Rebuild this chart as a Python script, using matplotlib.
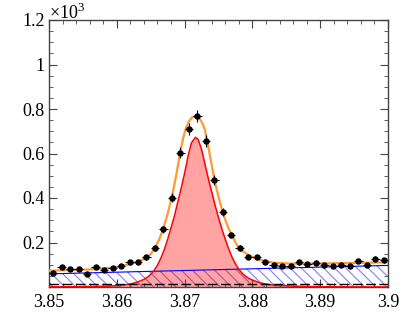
import numpy as np
import matplotlib
matplotlib.use("Agg")
import matplotlib.pyplot as plt
from matplotlib.ticker import MultipleLocator, FuncFormatter

plt.rcParams["font.family"] = ["Liberation Serif", "DejaVu Serif"]
plt.rcParams["mathtext.fontset"] = "custom"
plt.rcParams["mathtext.rm"] = "Liberation Serif"
plt.rcParams["hatch.color"] = "#8080ff"
plt.rcParams["hatch.linewidth"] = 0.8

# ---------------------------------------------------------------------
# Data (40 bins, 3.85 - 3.90)
# ---------------------------------------------------------------------
bin_width = 0.00125
bin_centers = 3.85 + bin_width * (np.arange(40) + 0.5)
counts = [64, 91, 81, 79, 58, 91, 75, 85, 94, 111,
          112, 133, 177, 259, 401, 604, 711, 768, 657, 481,
          337, 234, 177, 136, 133, 112, 99, 94, 93, 111,
          103, 109, 97, 94, 100, 93, 117, 99, 127, 120]

# total fit (orange)
total_x = [3.8500, 3.8520, 3.8540, 3.8560, 3.8575, 3.8590, 3.8600, 3.8610,
           3.8620, 3.8630, 3.8637, 3.8644, 3.8650, 3.8656, 3.8662, 3.8668,
           3.8674, 3.8681, 3.8687, 3.8693, 3.8698, 3.8702, 3.8706, 3.8710,
           3.8714, 3.8718, 3.8722, 3.8726, 3.8730, 3.8734, 3.8739, 3.8744,
           3.8750, 3.8755, 3.8760, 3.8765, 3.8770, 3.8775, 3.8780, 3.8787,
           3.8794, 3.8806, 3.8818, 3.8831, 3.8856, 3.8900, 3.8950, 3.9000]
total_y = [73, 75, 77, 79, 82, 86, 90, 96,
           104, 112, 121, 131, 148, 174, 210, 257,
           318, 401, 492, 596, 670, 715, 742, 759,
           766, 766, 757, 738, 705, 645, 565, 481,
           405, 350, 302, 262, 234, 200, 176, 158,
           144, 126, 117, 109, 105, 106, 108, 111]

# signal component (red)
signal_x = [3.8500, 3.8520, 3.8540, 3.8560, 3.8580, 3.8590, 3.8600, 3.8610,
            3.8620, 3.8630, 3.8635, 3.8640, 3.8645, 3.8650, 3.8655, 3.8660,
            3.8665, 3.8670, 3.8675, 3.8680, 3.8685, 3.8690, 3.8695, 3.8700,
            3.8705, 3.8710, 3.8716, 3.8720, 3.8725, 3.8730, 3.8735, 3.8740,
            3.8745, 3.8750, 3.8755, 3.8760, 3.8765, 3.8770, 3.8775, 3.8780,
            3.8785, 3.8790, 3.8795, 3.8800, 3.8810, 3.8820, 3.8830, 3.8840,
            3.8860, 3.8880, 3.8900, 3.8930, 3.8960, 3.9000]
signal_y = [0.5, 0.8, 1.1, 1.9, 3.4, 4.7, 6.1, 9.2,
            13.5, 21.5, 27.6, 34.3, 43.7, 56.5, 74, 98,
            129, 168, 214, 266, 319, 382, 444, 511,
            586, 647, 673, 663, 618, 553, 487, 427,
            367, 312, 261, 214, 171, 134, 104, 79,
            62, 48, 38, 31, 20, 13, 9, 6.3,
            3.6, 2.1, 1.3, 0.7, 0.4, 0.1]

# linear background (blue) and flat component (dashed)
bkg_x = [3.85, 3.90]
bkg_y = [59, 97]
flat_y = [14, 14]

# ---------------------------------------------------------------------
# Plot
# ---------------------------------------------------------------------
fig = plt.figure(figsize=(4.09, 3.27), dpi=100)
ax = fig.add_axes([49 / 409, 1 - 287 / 327, 339 / 409, 267 / 327])

ax.fill_between(bkg_x, 0, bkg_y, facecolor="none", edgecolor="#8080ff",
                linewidth=0, hatch="\\\\\\", zorder=1)
ax.fill_between(signal_x, 0, signal_y, color="red", alpha=0.36,
                linewidth=0, zorder=2)
ax.plot(bkg_x, bkg_y, color="#0000ff", linewidth=0.8, zorder=3)
ax.plot(signal_x, signal_y, color="#ff0000", linewidth=1.1, zorder=4)
ax.plot(bkg_x, flat_y, color="black", linewidth=1.0,
        linestyle=(0, (7, 2.5)), zorder=4)
ax.plot(total_x, total_y, color="#ff9a33", linewidth=1.6, zorder=5)

ax.errorbar(bin_centers, counts, xerr=bin_width / 2, yerr=np.sqrt(counts),
            fmt="o", color="black", markersize=3.6, elinewidth=0.8,
            capsize=0, zorder=6)

ax.set_xlim(3.85, 3.90)
ax.set_ylim(0, 1200)

ax.xaxis.set_major_locator(MultipleLocator(0.01))
ax.xaxis.set_minor_locator(MultipleLocator(0.002))
ax.yaxis.set_major_locator(MultipleLocator(200))
ax.yaxis.set_minor_locator(MultipleLocator(50))
ax.xaxis.set_major_formatter(FuncFormatter(lambda v, p: f"{round(v, 3):g}"))
ax.yaxis.set_major_formatter(
    FuncFormatter(lambda v, p: "" if abs(v) < 1e-9 else f"{v / 1000:g}"))

ax.tick_params(which="both", direction="in", top=True, right=True,
               labelsize=13, color="#444444")
ax.tick_params(which="major", length=6)
ax.tick_params(which="minor", length=3.2)
ax.tick_params(axis="x", pad=5)
ax.tick_params(axis="y", pad=3)
for s in ax.spines.values():
    s.set_color("#444444")
    s.set_linewidth(1.0)

ax.text(0.0, 1.005, r"×10$^{3}$", transform=ax.transAxes, ha="left",
        va="baseline", fontsize=13)

fig.savefig("out.png", dpi=100)
